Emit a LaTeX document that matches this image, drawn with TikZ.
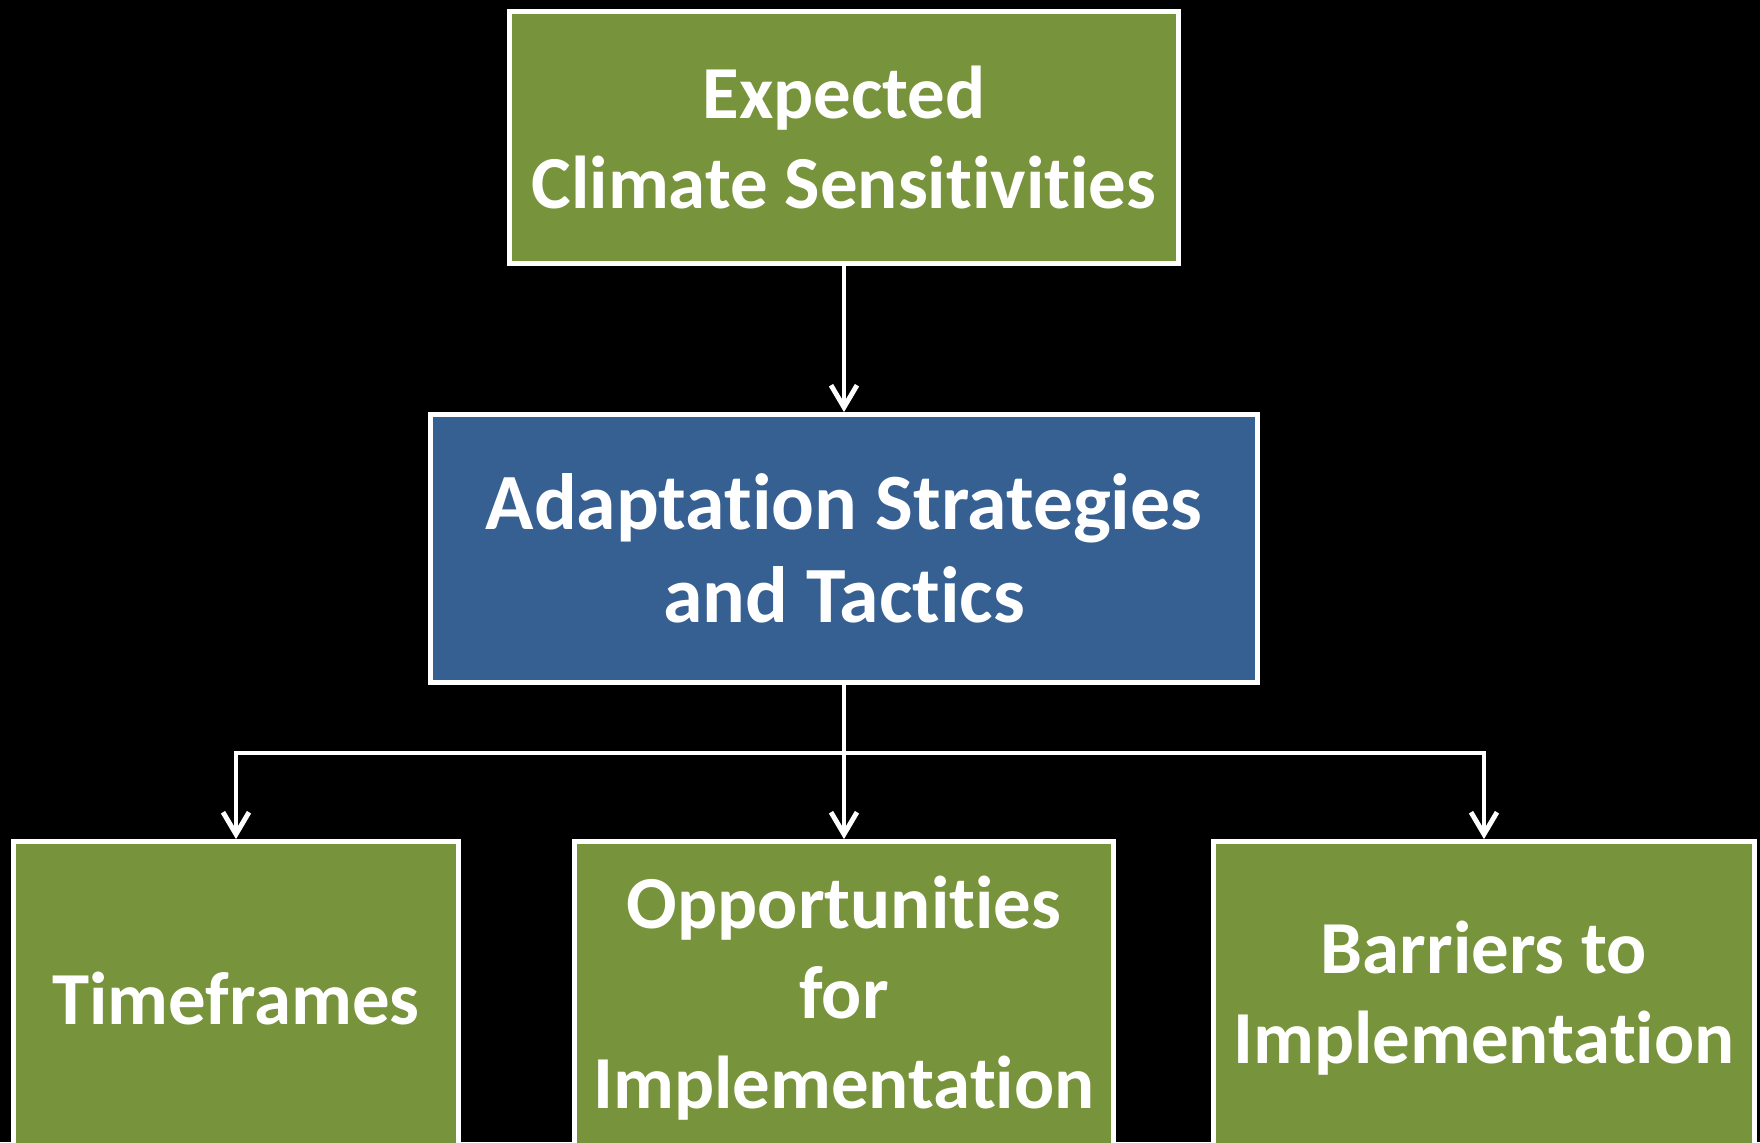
\documentclass[tikz,border=0pt]{standalone}
\usepackage{fontspec}
\setmainfont{Carlito}[Ligatures=NoCommon]
\usetikzlibrary{arrows.meta}
\definecolor{boxgreen}{HTML}{77933C}
\definecolor{boxblue}{HTML}{376092}
\tikzset{
	box/.style={draw=white, line width=1.4pt, align=center, text=white, inner sep=0pt},
	greenbox/.style={box, fill=boxgreen},
	bluebox/.style={box, fill=boxblue},
	link/.style={white, line width=1.4pt, -{Straight Barb[length=2.2mm,width=2.6mm]}}
}
\begin{document}
\begin{tikzpicture}
		%%%%% START %%%%%
		
		\fill[black] (0, 0) rectangle (17.6, -11.42);
		\useasboundingbox (0, 0) rectangle (17.6, -11.42);
		
		\node[greenbox, minimum width=6.69cm, minimum height=2.52cm, font=\bfseries\fontsize{21.3pt}{25.6pt}\selectfont] (sens) at (8.44, -1.375) {Expected\\Climate Sensitivities};
		\node[bluebox, minimum width=8.27cm, minimum height=2.68cm, font=\bfseries\fontsize{22.7pt}{26.5pt}\selectfont] (strat) at (8.44, -5.485) {Adaptation Strategies\\and Tactics};
		
		\node[greenbox, minimum width=4.45cm, minimum height=3.13cm, font=\bfseries\fontsize{21.3pt}{25.6pt}\selectfont] (time) at (2.36, -9.98) {Timeframes};
		\node[greenbox, minimum width=5.39cm, minimum height=3.13cm, font=\bfseries\fontsize{21.3pt}{25.6pt}\selectfont] (opp) at (8.44, -9.98) {Opportunities\\for\\Implementation};
		\node[greenbox, minimum width=5.41cm, minimum height=3.13cm, font=\bfseries\fontsize{21.3pt}{25.6pt}\selectfont] (barr) at (14.84, -9.98) {Barriers to\\Implementation};
		
		\draw[link] (sens.south) -- (strat.north);
		
		\coordinate (bus) at (8.44, -7.53);
		\draw[white, line width=1.4pt] (strat.south) -- (bus);
		\draw[link] (bus) -| (time.north);
		\draw[link] (bus) -- (opp.north);
		\draw[link] (bus) -| (barr.north);
		
		%%%%% END %%%%%
	\end{tikzpicture}
\end{document}
